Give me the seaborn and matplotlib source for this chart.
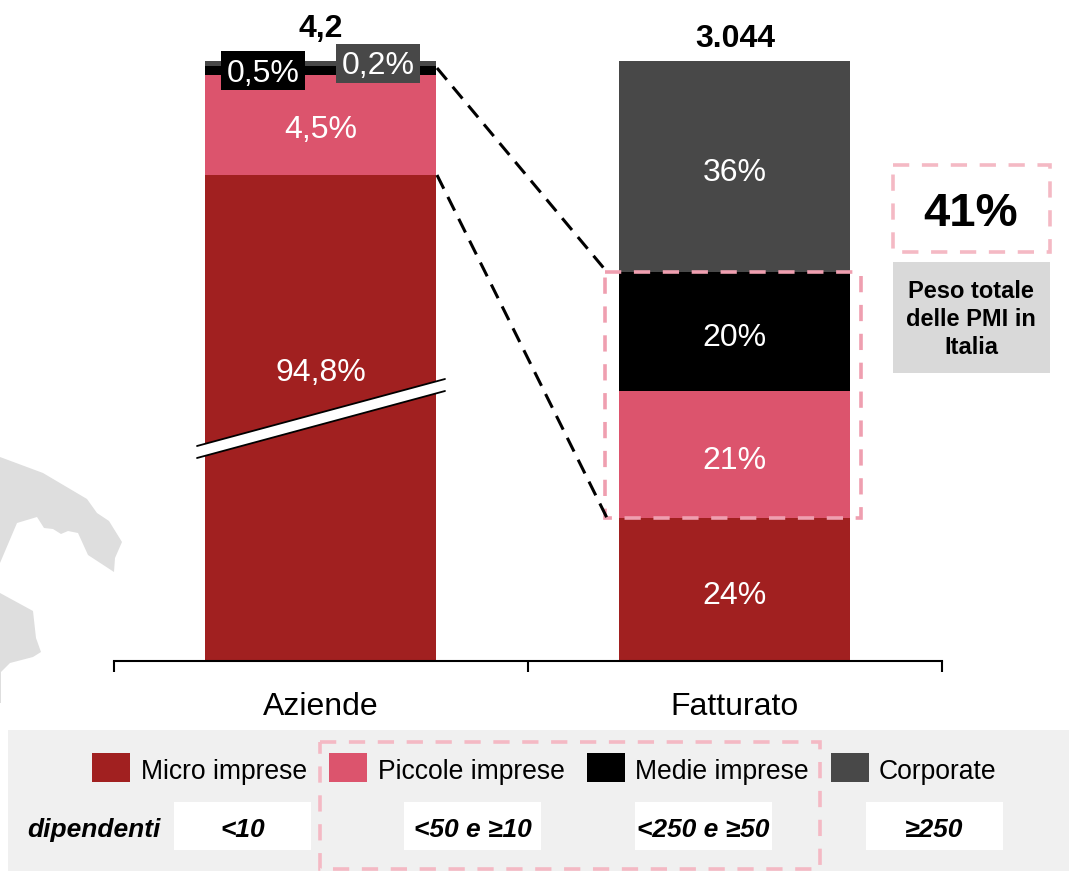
import matplotlib
matplotlib.use('Agg')
import matplotlib.pyplot as plt
from matplotlib.patches import Polygon, Rectangle
import numpy as np
import pandas as pd
import seaborn as sns

# Data
categories = ['Aziende', 'Fatturato']
segments = ['Micro imprese', 'Piccole imprese', 'Medie imprese', 'Corporate']
colors = ['#A12020', '#DC546D', '#000000', '#484848']
employees = ['<10', '<50 e ≥10', '<250 e ≥50', '≥250']

# Fatturato is to scale. Aziende has a broken axis, so its heights are as drawn
aziende_heights = [81.8, 16.8, 1.55, 0.85]
fatturato_heights = [24, 21.4, 20, 35.6]
aziende_labels = ['94,8%', '4,5%', '0,5%', '0,2%']
fatturato_labels = ['24%', '21%', '20%', '36%']
totals = ['4,2', '3.044']
pmi_share = '41%'

W, H = 1069, 871
pink = '#F4B9C4'
pink_dark = '#EF9FB0'

sns.set_theme(style='white')
plt.rcParams['font.family'] = ['Liberation Sans', 'DejaVu Sans']

fig = plt.figure(figsize=(W / 100, H / 100), dpi=100, facecolor='white')


def pixel_axes(zorder):
    a = fig.add_axes([0, 0, 1, 1], zorder=zorder)
    a.set_xlim(0, W)
    a.set_ylim(H, 0)
    a.axis('off')
    a.patch.set_alpha(0)
    return a


bg = pixel_axes(0)
top = pixel_axes(2)

# Map shapes behind the chart
map_color = '#DEDEDE'
bg.add_patch(Polygon([(0, 457), (43, 473), (87, 499), (97, 513), (109, 521), (122, 542),
                      (115, 558), (114, 572), (88, 555), (78, 533), (68, 531), (61, 534),
                      (53, 529), (44, 528), (37, 517), (17, 523), (0, 563)],
                     facecolor=map_color, edgecolor='none'))
bg.add_patch(Polygon([(0, 593), (33, 611), (36, 638), (41, 652), (33, 657), (10, 663),
                      (1, 672), (1, 703), (0, 703)],
                     facecolor=map_color, edgecolor='none'))

# Stacked bars: cumulative totals, tallest drawn first
df = pd.DataFrame({'Aziende': aziende_heights, 'Fatturato': fatturato_heights}, index=segments)
stack = df.cumsum().reset_index(names='segment').melt(id_vars='segment', var_name='cat', value_name='top')

ax = fig.add_axes([113.6 / W, 1 - 661 / H, 828 / W, 600 / H], zorder=1)
ax.patch.set_alpha(0)
sns.barplot(data=stack, x='cat', y='top', hue='segment', order=categories,
            hue_order=segments[::-1], palette=dict(zip(segments, colors)),
            dodge=False, width=0.558, saturation=1, legend=False, linewidth=0, edgecolor='none', ax=ax)
ax.set_xlim(-0.5, 1.5)
ax.set_ylim(0, 101)
ax.set_xlabel('')
ax.set_ylabel('')
ax.set_yticks([])
sns.despine(ax=ax, left=True)
ax.spines['bottom'].set_color('black')
ax.spines['bottom'].set_linewidth(1.5)
ax.set_xticks([-0.5, 0.5, 1.5], minor=True)
ax.tick_params(axis='x', which='minor', bottom=True, length=8, width=1.5, color='black')
ax.tick_params(axis='x', which='major', bottom=False, length=0, pad=22.5, labelsize=23, labelcolor='black')

# Labels inside the bars
for i, (heights, labels) in enumerate([(aziende_heights, aziende_labels), (fatturato_heights, fatturato_labels)]):
    mids = np.cumsum(heights) - np.array(heights) / 2
    for j, lab in enumerate(labels):
        if i == 0 and j != 1:
            continue
        ax.text(i, mids[j] - (0.75 if i == 0 else 1.0), lab, color='white', fontsize=23, ha='center', va='center')

# Axis break on the first bar
top.add_patch(Polygon([(197, 446), (445, 379), (445, 391), (197, 458)], facecolor='white', edgecolor='none'))
top.plot([197, 445], [446, 379], color='black', lw=1.3)
top.plot([197, 445], [458, 391], color='black', lw=1.3)
top.text(321, 373, aziende_labels[0], color='white', fontsize=23, ha='center', va='center')

# Small segments have boxed labels
top.add_patch(Rectangle((221, 51), 84, 39, facecolor=colors[2], edgecolor='none'))
top.text(263, 74, aziende_labels[2], color='white', fontsize=23, ha='center', va='center')
top.add_patch(Rectangle((336, 44), 84, 39, facecolor=colors[3], edgecolor='none'))
top.text(378, 66, aziende_labels[3], color='white', fontsize=23, ha='center', va='center')

# Totals
top.text(321, 29, totals[0], fontsize=23, fontweight='bold', color='black', ha='center', va='center')
top.text(735, 39, totals[1], fontsize=23, fontweight='bold', color='black', ha='center', va='center')

# Connectors and PMI highlight
top.plot([437, 607], [68, 272], color='black', lw=2.2, ls=(0, (5, 3)))
top.plot([437, 607], [175, 518], color='black', lw=2.2, ls=(0, (5, 3)))
top.add_patch(Rectangle((605, 272), 256, 246, fill=False, edgecolor=pink_dark, lw=2.6, ls=(0, (4.5, 3.5))))

# PMI callout
top.add_patch(Rectangle((893, 165), 157, 87, fill=False, edgecolor=pink, lw=2.6, ls=(0, (4.5, 3.5))))
top.text(971, 214, pmi_share, fontsize=34, fontweight='bold', color='black', ha='center', va='center')
top.add_patch(Rectangle((893, 262), 157, 111, facecolor='#D9D9D9', edgecolor='none'))
top.text(971, 319.5, 'Peso totale\ndelle PMI in\nItalia', fontsize=17, fontweight='bold', color='black',
         ha='center', va='center', linespacing=1.3)

# Legend panel
top.add_patch(Rectangle((8, 730), W - 8, H - 730, facecolor='#F0F0F0', edgecolor='none'))
swatch_x = [92, 329, 587, 831]
label_x = [141, 378, 635, 879]
box_x = [174, 404, 635, 866]
for seg, col, sx, lx, bx, emp in zip(segments, colors, swatch_x, label_x, box_x, employees):
    top.add_patch(Rectangle((sx, 753), 38, 29, facecolor=col, edgecolor='none'))
    top.text(lx, 772, seg, fontsize=19.1, color='black', ha='left', va='center')
    top.add_patch(Rectangle((bx, 802), 137, 48, facecolor='white', edgecolor='none'))
    top.text(bx + 68.5, 830, emp, fontsize=19, fontweight='bold', fontstyle='italic',
             color='black', ha='center', va='center')
top.text(27, 830, 'dipendenti', fontsize=19, fontweight='bold', fontstyle='italic',
         color='black', ha='left', va='center')
top.add_patch(Rectangle((320, 742), 500, 127, fill=False, edgecolor=pink, lw=2.6, ls=(0, (4.5, 3.5))))

fig.savefig('out.png', dpi=100)
